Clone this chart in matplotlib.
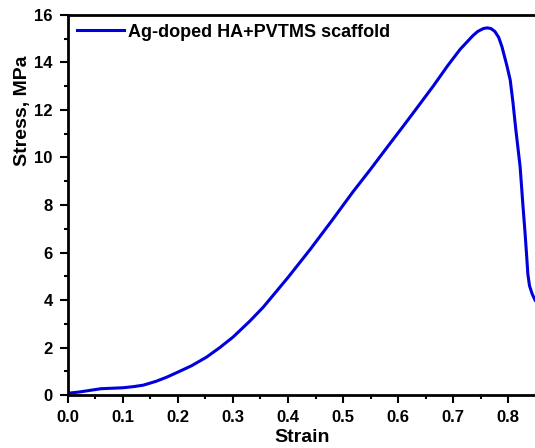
import numpy as np
import matplotlib.pyplot as plt
from matplotlib.ticker import MultipleLocator

# stress-strain curve
strain = [0, 0.02, 0.04, 0.06, 0.08, 0.1, 0.12, 0.137, 0.16, 0.18, 0.2, 0.225,
          0.252, 0.276, 0.3, 0.33, 0.355, 0.4, 0.44, 0.48, 0.518, 0.55, 0.58, 0.61,
          0.635, 0.664, 0.69, 0.713, 0.736, 0.745, 0.755, 0.762, 0.769, 0.776, 0.783,
          0.789, 0.798, 0.804, 0.809, 0.814, 0.818, 0.822, 0.827, 0.831, 0.834,
          0.836, 0.839, 0.844, 0.849]
stress = [0.08, 0.13, 0.2, 0.27, 0.29, 0.31, 0.36, 0.42, 0.58, 0.76, 0.97, 1.24,
          1.6, 2.0, 2.44, 3.1, 3.7, 4.95, 6.12, 7.35, 8.55, 9.5, 10.42, 11.33,
          12.1, 13.0, 13.85, 14.55, 15.12, 15.3, 15.42, 15.45, 15.42, 15.3, 15.05,
          14.65, 13.85, 13.25, 12.3, 11.2, 10.4, 9.6, 8.0, 6.8, 5.8,
          5.1, 4.6, 4.25, 4.0]
label = 'Ag-doped HA+PVTMS scaffold'

plt.rcParams['font.family'] = ['Liberation Sans', 'DejaVu Sans']
plt.rcParams['font.weight'] = 'bold'

fig = plt.figure(figsize=(5.35, 4.48), dpi=100)
ax = fig.add_axes([0.127, 0.118, 0.873, 0.849])
ax.plot(strain, stress, color='#0000dd', lw=2.2, label=label)

ax.set_xlim(0, 0.849)
ax.set_ylim(0, 16)
ax.xaxis.set_major_locator(MultipleLocator(0.1))
ax.xaxis.set_minor_locator(MultipleLocator(0.05))
ax.yaxis.set_major_locator(MultipleLocator(2))
ax.yaxis.set_minor_locator(MultipleLocator(1))
ax.xaxis.set_major_formatter(plt.FormatStrFormatter('%.1f'))
ax.tick_params(which='major', direction='out', length=6, width=1.5, labelsize=12, pad=5)
ax.tick_params(which='minor', direction='out', length=3, width=1.5)
for s in ['left', 'bottom', 'top']:
    ax.spines[s].set_linewidth(2)
ax.spines['right'].set_visible(False)

ax.set_xlabel('Strain', fontsize=14, fontweight='bold')
ax.set_ylabel('Stress, MPa', fontsize=14, fontweight='bold')
ax.xaxis.set_label_coords(0.501, -0.088)
ax.yaxis.set_label_coords(-0.079, 0.747)
leg = ax.legend(loc='upper left', frameon=False, fontsize=13, handlelength=2.6,
                borderaxespad=0.1, handletextpad=0.25)

fig.savefig('out.png', dpi=100)
